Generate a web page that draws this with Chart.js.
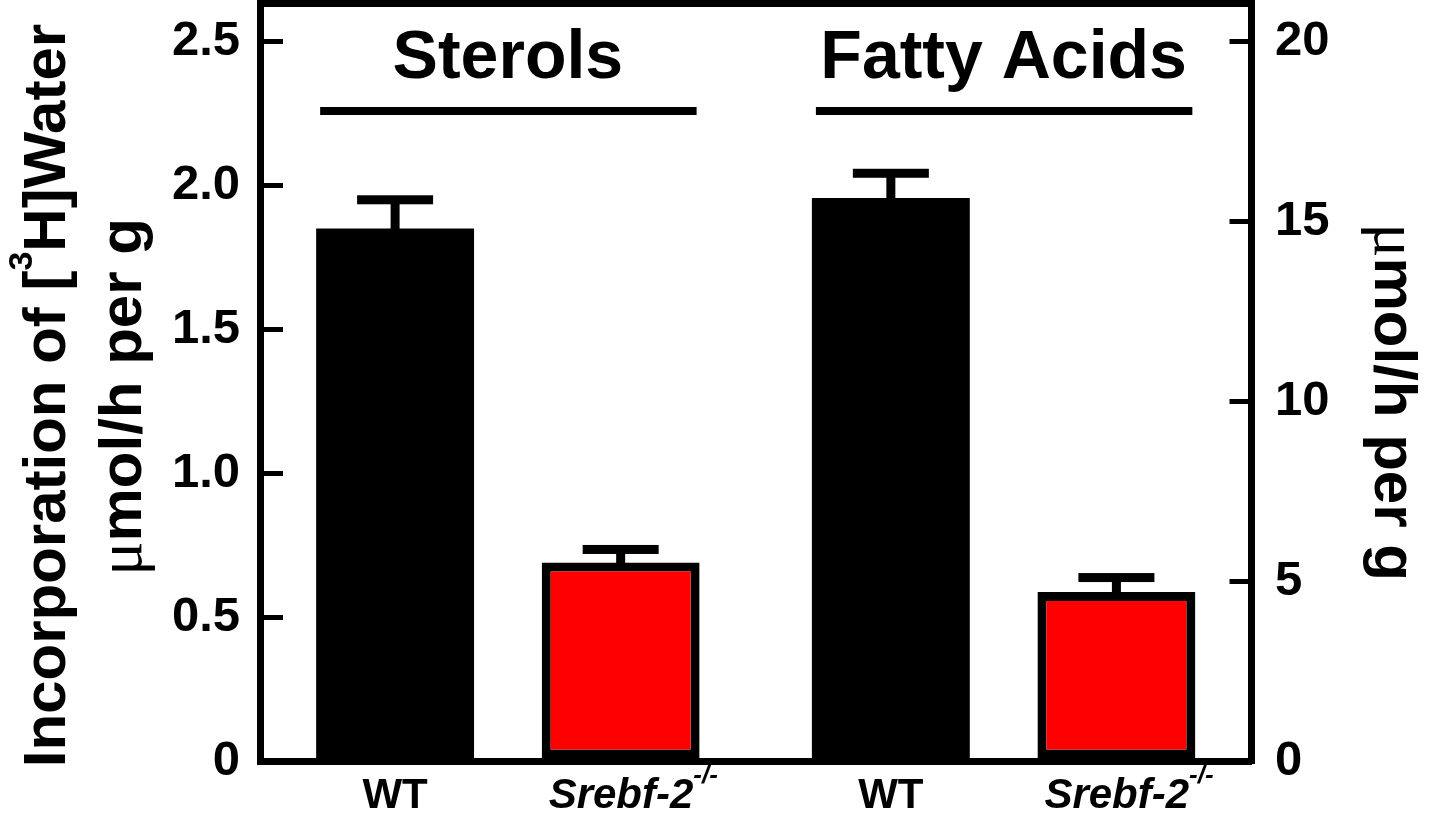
<!DOCTYPE html>
<html>
<head>
<meta charset="utf-8">
<script src="https://cdn.jsdelivr.net/npm/chart.js@4.4.0/dist/chart.umd.min.js"></script>
<style>
  html, body { margin: 0; padding: 0; background: #fff; }
  #wrap { width: 1436px; height: 838px; position: relative; }
</style>
</head>
<body>
<div id="wrap"><canvas id="chart"></canvas></div>
<script>
const groups = ['Sterols', 'Fatty Acids'];
const genotypes = ['WT', 'Srebf-2'];
const genotypeSup = ['', '-/-'];
const sterolMeans = [1.85, 0.69];      // left axis
const sterolSem = [0.10, 0.045];
const fattyAcidMeans = [15.65, 4.70];  // right axis
const fattyAcidSem = [0.69, 0.40];
const leftTicks = [0, 0.5, 1.0, 1.5, 2.0, 2.5];
const rightTicks = [0, 5, 10, 15, 20];
const leftMax = 2.632;
const rightMax = 21.06;
const barColors = ['#000000', '#ff0000'];

const SANS = '"Liberation Sans", Arial, sans-serif';
const SERIF = '"Liberation Serif", "Times New Roman", serif';

// one dataset per bar, each only filled in its own group
const datasets = [];
function addGroup(g, means, sems, axis) {
    genotypes.forEach((name, i) => {
        datasets.push({
            label: name + ' ' + groups[g],
            data: groups.map((_, k) => k === g ? means[i] : null),
            errors: groups.map((_, k) => k === g ? sems[i] : null),
            xAxisID: 'x',
            yAxisID: axis,
            backgroundColor: barColors[i],
            borderColor: '#000',
            borderWidth: i === 0 ? 0 : 9,
            borderSkipped: false,
            genotype: i
        });
    });
}
addGroup(0, sterolMeans, sterolSem, 'y');
addGroup(1, fattyAcidMeans, fattyAcidSem, 'y2');

function drawPieces(ctx, pieces, x, y, align) {
    let total = 0;
    pieces.forEach(p => {
        ctx.font = p.font;
        p.w = ctx.measureText(p.text).width;
        total += p.w;
    });
    let cx = align === 'center' ? x - total / 2 : x;
    pieces.forEach(p => {
        ctx.font = p.font;
        ctx.fillText(p.text, cx, y + (p.dy || 0));
        cx += p.w;
    });
}

const errorBars = {
    id: 'errorBars',
    afterDatasetsDraw(chart) {
        const ctx = chart.ctx;
        ctx.save();
        ctx.fillStyle = '#000';
        chart.data.datasets.forEach((ds, i) => {
            const meta = chart.getDatasetMeta(i);
            const yScale = chart.scales[meta.yAxisID];
            meta.data.forEach((bar, j) => {
                const v = ds.data[j];
                if (v === null) return;
                const top = yScale.getPixelForValue(v + ds.errors[j]);
                ctx.fillRect(bar.x - 4.5, top, 9, bar.y - top + 5);
                ctx.fillRect(bar.x - 38, top - 4.5, 76, 9);
            });
        });
        ctx.restore();
    }
};

const unitPieces = () => [
    { text: '\u03bc', font: '64px ' + SERIF },
    { text: 'mol/h per g', font: 'bold 60px ' + SANS }
];

const annotations = {
    id: 'annotations',
    afterDraw(chart) {
        const ctx = chart.ctx;
        ctx.save();
        ctx.fillStyle = '#000';
        ctx.textBaseline = 'alphabetic';
        ctx.textAlign = 'left';

        groups.forEach((name, g) => {
            const bars = [];
            chart.data.datasets.forEach((ds, i) => {
                if (ds.data[g] !== null) bars.push({ el: chart.getDatasetMeta(i).data[g], gi: ds.genotype });
            });
            const first = bars[0].el, last = bars[bars.length - 1].el;
            const mid = (first.x + last.x) / 2;
            drawPieces(ctx, [{ text: name, font: 'bold 68px ' + SANS }], mid, 78, 'center');
            const x0 = first.x - first.width / 2 + 4;
            const x1 = last.x + last.width / 2 - 3;
            ctx.fillRect(x0, 107, x1 - x0, 8);

            bars.forEach(({ el, gi }) => {
                if (genotypeSup[gi]) {
                    drawPieces(ctx, [
                        { text: genotypes[gi], font: 'italic bold 42px ' + SANS },
                        { text: genotypeSup[gi], font: 'italic bold 26px ' + SANS, dy: -25 }
                    ], el.x - 72, 808, 'left');
                } else {
                    drawPieces(ctx, [{ text: genotypes[gi], font: 'bold 42px ' + SANS }], el.x, 808, 'center');
                }
            });
        });

        // left axis title, two lines
        ctx.save();
        ctx.translate(65, 395.5);
        ctx.rotate(-Math.PI / 2);
        drawPieces(ctx, [
            { text: 'Incorporation of [', font: 'bold 60px ' + SANS },
            { text: '3', font: 'bold 34px ' + SANS, dy: -33 },
            { text: 'H]Water', font: 'bold 60px ' + SANS }
        ], 0, 0, 'center');
        ctx.restore();

        ctx.save();
        ctx.translate(141, 397);
        ctx.rotate(-Math.PI / 2);
        drawPieces(ctx, unitPieces(), 0, 0, 'center');
        ctx.restore();

        // right axis title
        ctx.save();
        ctx.translate(1375, 402);
        ctx.rotate(Math.PI / 2);
        drawPieces(ctx, unitPieces(), 0, 0, 'center');
        ctx.restore();

        ctx.restore();
    }
};

const tickFont = { family: SANS, size: 49, weight: 'bold' };

function fixWidth(w) {
    return s => {
        s.width = w;
        s.paddingTop = 0;
        s.paddingBottom = 0;
    };
}

new Chart(document.getElementById('chart'), {
    type: 'bar',
    data: { labels: groups, datasets: datasets },
    options: {
        responsive: true,
        maintainAspectRatio: false,
        animation: false,
        devicePixelRatio: 1,
        skipNull: true,
        categoryPercentage: 0.91,
        barPercentage: 0.70,
        layout: { padding: 0 },
        plugins: { legend: { display: false }, tooltip: { enabled: false } },
        scales: {
            x: {
                type: 'category',
                position: 'bottom',
                grid: { display: false },
                border: { display: true, width: 7, color: '#000' },
                ticks: { display: false },
                afterFit: s => { s.height = 77; s.paddingLeft = 0; s.paddingRight = 0; }
            },
            xTop: {
                type: 'category',
                position: 'top',
                grid: { display: false, drawTicks: false },
                border: { display: true, width: 7, color: '#000' },
                ticks: { display: false },
                afterFit: s => { s.height = 3.5; s.paddingLeft = 0; s.paddingRight = 0; }
            },
            y: {
                position: 'left',
                min: 0,
                max: leftMax,
                afterBuildTicks: s => { s.ticks = leftTicks.map(v => ({ value: v })); },
                grid: { drawOnChartArea: false, drawTicks: true, tickLength: -23, tickWidth: 5, tickColor: '#000', lineWidth: 5 },
                border: { display: true, width: 7, color: '#000' },
                ticks: {
                    color: '#000', font: tickFont, padding: 43, autoSkip: false,
                    callback: v => v === 0 ? '0' : v.toFixed(1)
                },
                afterFit: fixWidth(260)
            },
            y2: {
                position: 'right',
                min: 0,
                max: rightMax,
                afterBuildTicks: s => { s.ticks = rightTicks.map(v => ({ value: v })); },
                grid: { drawOnChartArea: false, drawTicks: true, tickLength: -22, tickWidth: 5, tickColor: '#000', lineWidth: 5 },
                border: { display: true, width: 7, color: '#000' },
                ticks: { color: '#000', font: tickFont, padding: 45.5, autoSkip: false },
                afterFit: fixWidth(184.5)
            }
        }
    },
    plugins: [errorBars, annotations]
});
</script>
</body>
</html>
